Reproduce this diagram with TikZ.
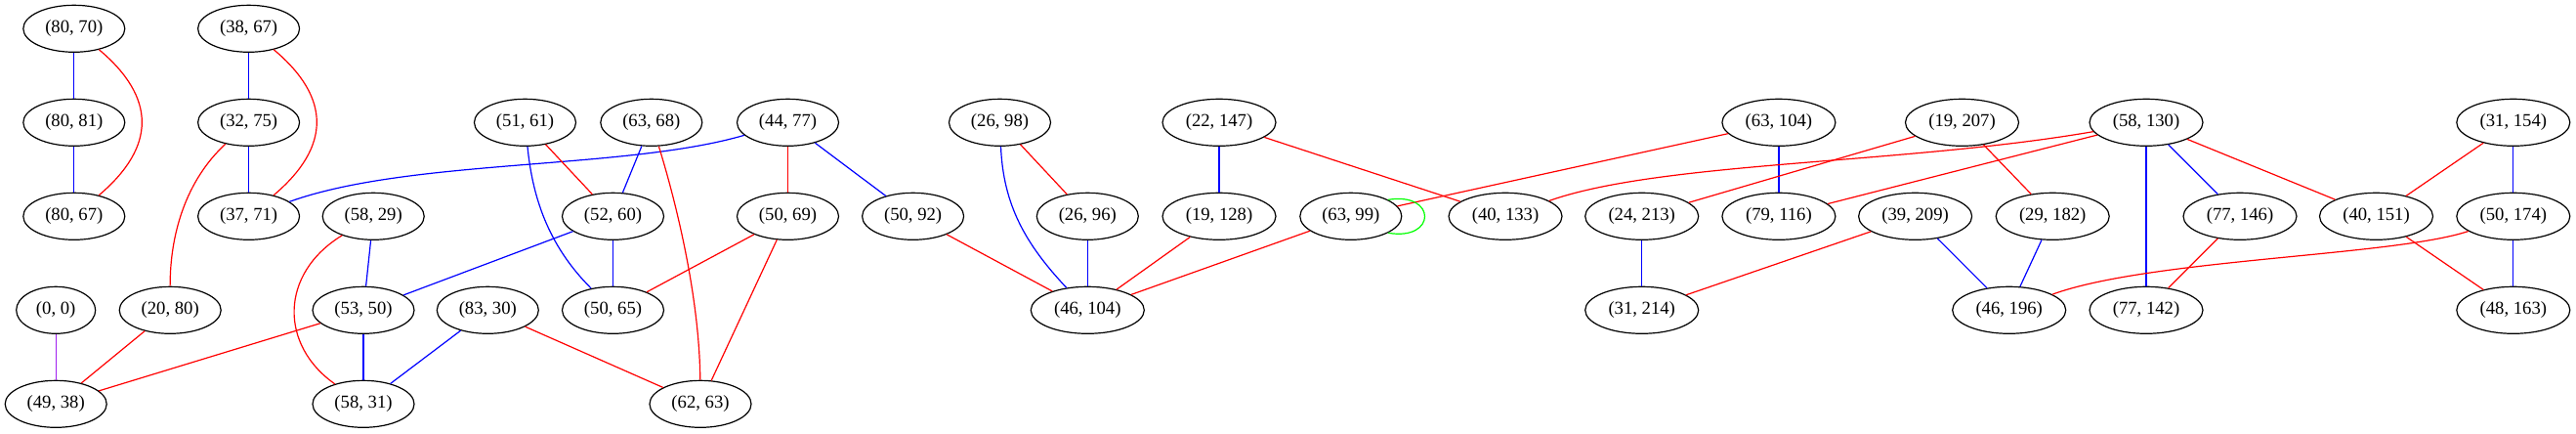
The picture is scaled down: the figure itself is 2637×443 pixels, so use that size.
\documentclass[tikz,border=0pt]{standalone}
\usepackage{fontspec}
\setmainfont{Liberation Serif}
\usetikzlibrary{shapes.geometric}
\definecolor{gvred}{HTML}{FF0000}
\definecolor{gvblue}{HTML}{0000FF}
\definecolor{gvgreen}{HTML}{00FF00}
\definecolor{gvpurple}{HTML}{A020F0}
\begin{document}
\begin{tikzpicture}[x=0.75pt,y=-0.75pt,
  gvnode/.style={draw=black,ellipse,line width=0.9pt,inner sep=0pt,minimum width=78pt,minimum height=36pt,font=\fontsize{14pt}{16pt}\selectfont},
  wide/.style={minimum width=87pt},
  narrow/.style={minimum width=60.75pt},
  re/.style={draw=gvred,line width=0.9pt},
  bl/.style={draw=gvblue,line width=0.9pt},
  gr/.style={draw=gvgreen,line width=0.9pt},
  pu/.style={draw=gvpurple,line width=0.9pt}]
\useasboundingbox (0,0) rectangle (2637,443);
\def\ra{29.3}\def\rb{125.3}\def\rc{221.3}\def\rd{317.3}\def\re{413.3}
% row 1
\node[gvnode] (n8070) at (75.8,\ra) {(80, 70)};
\node[gvnode] (n3867) at (254.6,\ra) {(38, 67)};
% row 2
\node[gvnode] (n8081) at (75.8,\rb) {(80, 81)};
\node[gvnode] (n3275) at (254.6,\rb) {(32, 75)};
\node[gvnode] (n5161) at (537.5,\rb) {(51, 61)};
\node[gvnode] (n6368) at (666.8,\rb) {(63, 68)};
\node[gvnode] (n4477) at (806.5,\rb) {(44, 77)};
\node[gvnode] (n2698) at (1023.5,\rb) {(26, 98)};
\node[gvnode,wide] (n22147) at (1248,\rb) {(22, 147)};
\node[gvnode,wide] (n63104) at (1820.9,\rb) {(63, 104)};
\node[gvnode,wide] (n19207) at (2008.5,\rb) {(19, 207)};
\node[gvnode,wide] (n58130) at (2197,\rb) {(58, 130)};
\node[gvnode,wide] (n31154) at (2572.8,\rb) {(31, 154)};
% row 3
\node[gvnode] (n8067) at (75.8,\rc) {(80, 67)};
\node[gvnode] (n3771) at (254.6,\rc) {(37, 71)};
\node[gvnode] (n5829) at (382.2,\rc) {(58, 29)};
\node[gvnode] (n5260) at (627.5,\rc) {(52, 60)};
\node[gvnode] (n5069) at (806.5,\rc) {(50, 69)};
\node[gvnode] (n5092) at (934.6,\rc) {(50, 92)};
\node[gvnode] (n2696) at (1113.3,\rc) {(26, 96)};
\node[gvnode,wide] (n19128) at (1248,\rc) {(19, 128)};
\node[gvnode] (n6399) at (1382.8,\rc) {(63, 99)};
\node[gvnode,wide] (n40133) at (1541,\rc) {(40, 133)};
\node[gvnode,wide] (n24213) at (1680.7,\rc) {(24, 213)};
\node[gvnode,wide] (n79116) at (1820.9,\rc) {(79, 116)};
\node[gvnode,wide] (n39209) at (1960.6,\rc) {(39, 209)};
\node[gvnode,wide] (n29182) at (2101.2,\rc) {(29, 182)};
\node[gvnode,wide] (n77146) at (2293,\rc) {(77, 146)};
\node[gvnode,wide] (n40151) at (2432.5,\rc) {(40, 151)};
\node[gvnode,wide] (n50174) at (2572.8,\rc) {(50, 174)};
% row 4
\node[gvnode,narrow] (n00) at (57.2,\rd) {(0, 0)};
\node[gvnode] (n2080) at (174.2,\rd) {(20, 80)};
\node[gvnode] (n5350) at (372,\rd) {(53, 50)};
\node[gvnode] (n8330) at (499.3,\rd) {(83, 30)};
\node[gvnode] (n5065) at (627.5,\rd) {(50, 65)};
\node[gvnode,wide] (n46104) at (1113.3,\rd) {(46, 104)};
\node[gvnode,wide] (n31214) at (1680.7,\rd) {(31, 214)};
\node[gvnode,wide] (n46196) at (2056.7,\rd) {(46, 196)};
\node[gvnode,wide] (n77142) at (2197,\rd) {(77, 142)};
\node[gvnode,wide] (n48163) at (2572.8,\rd) {(48, 163)};
% row 5
\node[gvnode] (n4938) at (57.2,\re) {(49, 38)};
\node[gvnode] (n5831) at (372,\re) {(58, 31)};
\node[gvnode] (n6263) at (717,\re) {(62, 63)};
% edges
\draw[bl] (n8070) -- (n8081);
\draw[bl] (n8081) -- (n8067);
\draw[re] (n8070) .. controls (160,100) and (160,150) .. (n8067);
\draw[bl] (n3867) -- (n3275);
\draw[bl] (n3275) -- (n3771);
\draw[re] (n3867) .. controls (339,100) and (339,150) .. (n3771);
\draw[re] (n3275) .. controls (190,185) and (174,240) .. (n2080);
\draw[bl] (n4477) .. controls (640,174) and (420,162) .. (n3771);
\draw[re] (n5161) -- (n5260);
\draw[bl] (n5161) .. controls (545,200) and (560,250) .. (n5065);
\draw[bl] (n6368) -- (n5260);
\draw[re] (n6368) .. controls (690,200) and (716,300) .. (n6263);
\draw[re] (n4477) -- (n5069);
\draw[bl] (n4477) -- (n5092);
\draw[bl] (n5260) -- (n5350);
\draw[bl] (n5260) -- (n5065);
\draw[re] (n5069) -- (n5065);
\draw[re] (n5069) -- (n6263);
\draw[bl] (n5829) -- (n5350);
\draw[re] (n5829) .. controls (286,280) and (286,353) .. (n5831);
\draw[bl] (n5350) -- (n5831);
\draw[re] (n5350) -- (n4938);
\draw[re] (n2080) -- (n4938);
\draw[pu] (n00) -- (n4938);
\draw[bl] (n8330) -- (n5831);
\draw[re] (n8330) -- (n6263);
\draw[re] (n5092) -- (n46104);
\draw[re] (n2698) -- (n2696);
\draw[bl] (n2698) .. controls (1027,210) and (1050,250) .. (n46104);
\draw[bl] (n2696) -- (n46104);
\draw[re] (n19128) -- (n46104);
\draw[re] (n6399) -- (n46104);
\draw[bl] (n22147) -- (n19128);
\draw[re] (n22147) -- (n40133);
\draw[re] (n63104) -- (n6399);
\draw[gr] (n6399.24) .. controls (1471,196) and (1471,247) .. (n6399.-24);
\draw[bl] (n63104) -- (n79116);
\draw[re] (n58130) .. controls (1950,168) and (1700,165) .. (n40133);
\draw[re] (n58130) -- (n79116);
\draw[re] (n19207) -- (n24213);
\draw[re] (n19207) -- (n29182);
\draw[bl] (n24213) -- (n31214);
\draw[re] (n39209) -- (n31214);
\draw[bl] (n39209) -- (n46196);
\draw[bl] (n29182) -- (n46196);
\draw[bl] (n58130) -- (n77142);
\draw[bl] (n58130) -- (n77146);
\draw[re] (n58130) -- (n40151);
\draw[re] (n77146) -- (n77142);
\draw[re] (n31154) -- (n40151);
\draw[bl] (n31154) -- (n50174);
\draw[bl] (n50174) -- (n48163);
\draw[re] (n40151) -- (n48163);
\draw[re] (n50174) .. controls (2450,262) and (2200,265) .. (n46196);
\end{tikzpicture}
\end{document}
